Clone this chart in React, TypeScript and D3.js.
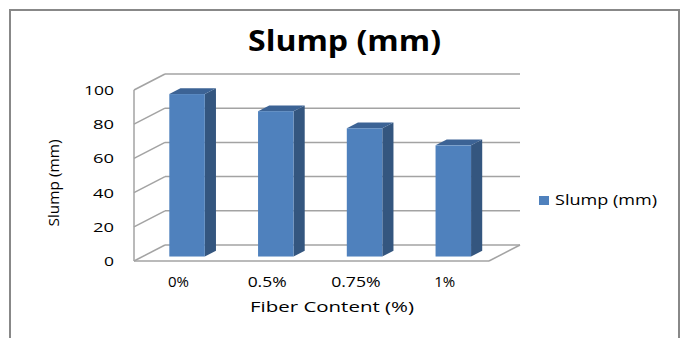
import React from "react";
import * as d3 from "d3";

const categories = ["0%", "0.5%", "0.75%", "1%"];
const slump = [95, 85, 75, 65];
const yTicks = [0, 20, 40, 60, 80, 100];

const W = 682;
const H = 338;
const X0 = 134;
const X1 = 489;
const DX = 31;
const DY = -16;
const FONT = "'Open Sans', 'DejaVu Sans', sans-serif";

export default function App() {
  const x = d3.scaleBand<string>().domain(categories).range([X0, X1]).padding(0);
  const y = d3.scaleLinear().domain([0, 100]).range([261, 90]);
  const bw = x.bandwidth() * 0.4;
  const f1 = 0.28; // depth fraction of bar front
  const f2 = 0.64; // depth fraction of bar back
  const grid = "#A3A3A3";
  const labelLen = (s: string) => s.length * 10.5 - (s.includes(".") ? 3 : 0);

  return (
    <div style={{ margin: 0 }}>
      <style>{`body{margin:0}`}</style>
      <svg width={W} height={H} style={{ display: "block" }}>
        <rect x={0} y={0} width={W} height={H} fill="#fff" />
        <rect x={10} y={10} width={669} height={345} fill="#fff" stroke="#888" strokeWidth={2} />
        <text x={344.5} y={51} textAnchor="middle" fontFamily={FONT} fontWeight={700} fontSize={29}
          textLength={193} lengthAdjust="spacingAndGlyphs" fill="#000">Slump (mm)</text>

        {yTicks.map((t) => (
          <g key={t}>
            <line x1={X0 + DX} y1={y(t) + DY} x2={X1 + DX} y2={y(t) + DY} stroke={grid} strokeWidth={1.5} />
            <line x1={X0} y1={y(t)} x2={X0 + DX} y2={y(t) + DY} stroke={grid} strokeWidth={1.5} />
            <text x={114} y={y(t) + 5} textAnchor="end" fontFamily={FONT} fontSize={13}
              textLength={t === 100 ? 30 : t === 0 ? 10 : 21} lengthAdjust="spacingAndGlyphs" fill="#000">{t}</text>
          </g>
        ))}
        <line x1={X0} y1={y(100)} x2={X0} y2={y(0)} stroke={grid} strokeWidth={1.5} />
        <line x1={X0} y1={y(0)} x2={X1} y2={y(0)} stroke={grid} strokeWidth={1.5} />
        <line x1={X1} y1={y(0)} x2={X1 + DX} y2={y(0) + DY} stroke={grid} strokeWidth={1.5} />

        {categories.map((c, i) => {
          const cx = (x(c) as number) + x.bandwidth() / 2;
          const xl = cx - bw / 2 + DX * f1;
          const xr = xl + bw;
          const yb = y(0) + DY * f1;
          const yt = y(slump[i]) + DY * f1;
          const ddx = DX * (f2 - f1);
          const ddy = DY * (f2 - f1);
          return (
            <g key={c}>
              <polygon points={`${xr},${yt} ${xr + ddx},${yt + ddy} ${xr + ddx},${yb + ddy} ${xr},${yb}`} fill="#34567F" />
              <polygon points={`${xl},${yt} ${xl + ddx},${yt + ddy} ${xr + ddx},${yt + ddy} ${xr},${yt}`} fill="#3C6395" />
              <rect x={xl} y={yt} width={bw} height={yb - yt} fill="#4F81BD" />
            </g>
          );
        })}

        {categories.map((c) => (
          <text key={c} x={(x(c) as number) + x.bandwidth() / 2} y={287} textAnchor="middle" fontFamily={FONT}
            fontSize={14} textLength={labelLen(c)} lengthAdjust="spacingAndGlyphs" fill="#000">{c}</text>
        ))}
        <text x={332} y={312} textAnchor="middle" fontFamily={FONT} fontSize={15}
          textLength={164} lengthAdjust="spacingAndGlyphs" fill="#000">Fiber Content (%)</text>
        <text transform="translate(59,183) rotate(-90)" textAnchor="middle" fontFamily={FONT} fontSize={15}
          textLength={87} lengthAdjust="spacingAndGlyphs" fill="#000">Slump (mm)</text>

        <rect x={539} y={196} width={10} height={9} fill="#4F81BD" />
        <text x={555} y={205} fontFamily={FONT} fontSize={14} textLength={102}
          lengthAdjust="spacingAndGlyphs" fill="#000">Slump (mm)</text>
      </svg>
    </div>
  );
}
